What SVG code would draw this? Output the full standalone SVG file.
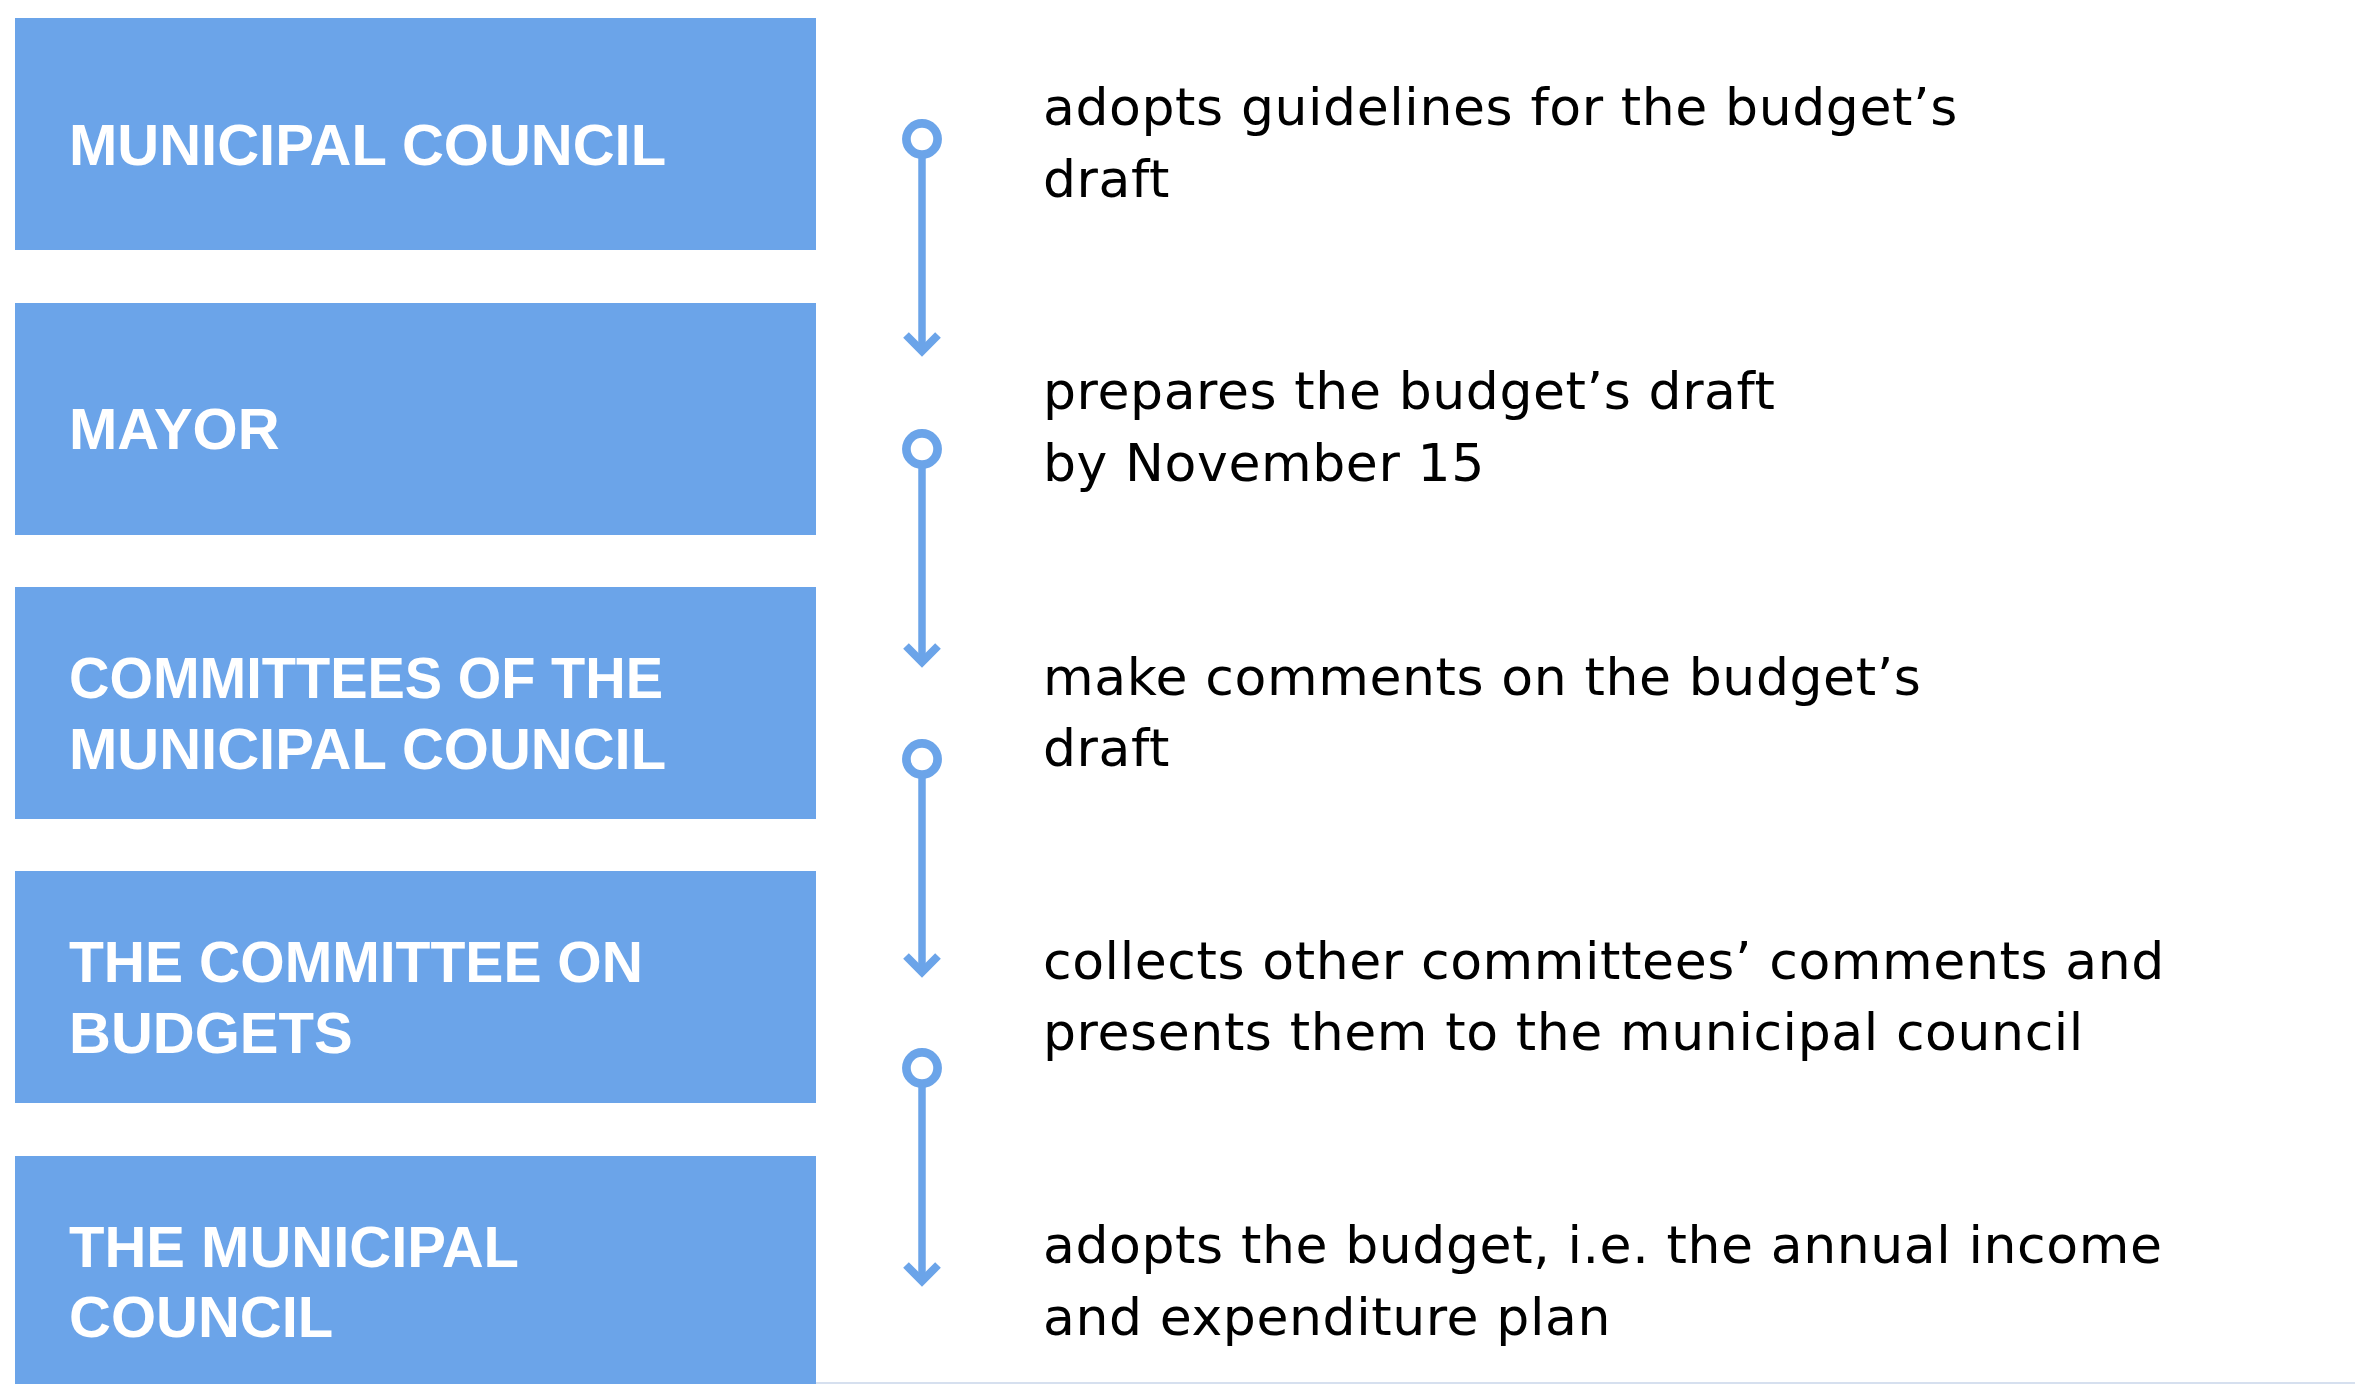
<svg xmlns="http://www.w3.org/2000/svg" width="2355" height="1384" viewBox="0 0 2355 1384">
<style>
.box{fill:#6BA4E9}
.lbl{font-family:"Liberation Sans",Arial,sans-serif;font-weight:700;font-size:58px;fill:#ffffff}
.desc{font-family:"DejaVu Sans","Noto Sans",sans-serif;font-size:52px;letter-spacing:0.6px;fill:#000000}
.ring{fill:#ffffff;stroke:#6BA4E9;stroke-width:8.7}
.stem{stroke:#6BA4E9;stroke-width:7.5;fill:none}
.head{stroke:#6BA4E9;stroke-width:8;fill:none;stroke-linejoin:miter}
</style>
<rect x="0" y="0" width="2355" height="1384" fill="#ffffff"/>
<rect x="816" y="1382" width="1539" height="2" fill="#D6E0EF"/>

<g id="node1">
<rect class="box" x="15" y="18" width="801" height="232"/>
<text class="lbl" x="69" y="165">MUNICIPAL COUNCIL</text>
</g>
<g id="node2">
<rect class="box" x="15" y="303" width="801" height="232"/>
<text class="lbl" x="69" y="449">MAYOR</text>
</g>
<g id="node3">
<rect class="box" x="15" y="587" width="801" height="232"/>
<text class="lbl" x="69" y="698" textLength="594" lengthAdjust="spacingAndGlyphs">COMMITTEES OF THE</text>
<text class="lbl" x="69" y="769">MUNICIPAL COUNCIL</text>
</g>
<g id="node4">
<rect class="box" x="15" y="871" width="801" height="232"/>
<text class="lbl" x="69" y="982" textLength="574" lengthAdjust="spacingAndGlyphs">THE COMMITTEE ON</text>
<text class="lbl" x="69" y="1053">BUDGETS</text>
</g>
<g id="node5">
<rect class="box" x="15" y="1156" width="801" height="228"/>
<text class="lbl" x="69" y="1267">THE MUNICIPAL</text>
<text class="lbl" x="69" y="1337">COUNCIL</text>
</g>

<g id="desc1">
<text class="desc" x="1043" y="125">adopts guidelines for the budget’s</text>
<text class="desc" x="1043" y="197">draft</text>
</g>
<g id="desc2">
<text class="desc" x="1043" y="409">prepares the budget’s draft</text>
<text class="desc" x="1043" y="481">by November 15</text>
</g>
<g id="desc3">
<text class="desc" x="1043" y="695">make comments on the budget’s</text>
<text class="desc" x="1043" y="766">draft</text>
</g>
<g id="desc4">
<text class="desc" x="1043" y="979">collects other committees’ comments and</text>
<text class="desc" x="1043" y="1050">presents them to the municipal council</text>
</g>
<g id="desc5">
<text class="desc" x="1043" y="1263">adopts the budget, i.e. the annual income</text>
<text class="desc" x="1043" y="1335">and expenditure plan</text>
</g>

<g id="connectors">
<line class="stem" x1="922" y1="155" x2="922" y2="351"/>
<path class="head" d="M906,335 L922,351 L938,335"/>
<circle class="ring" cx="922" cy="139" r="15.6"/>

<line class="stem" x1="922" y1="465" x2="922" y2="662"/>
<path class="head" d="M906,646 L922,662 L938,646"/>
<circle class="ring" cx="922" cy="449" r="15.6"/>

<line class="stem" x1="922" y1="775" x2="922" y2="972"/>
<path class="head" d="M906,956 L922,972 L938,956"/>
<circle class="ring" cx="922" cy="759" r="15.6"/>

<line class="stem" x1="922" y1="1084" x2="922" y2="1281"/>
<path class="head" d="M906,1265 L922,1281 L938,1265"/>
<circle class="ring" cx="922" cy="1068" r="15.6"/>
</g>
</svg>
